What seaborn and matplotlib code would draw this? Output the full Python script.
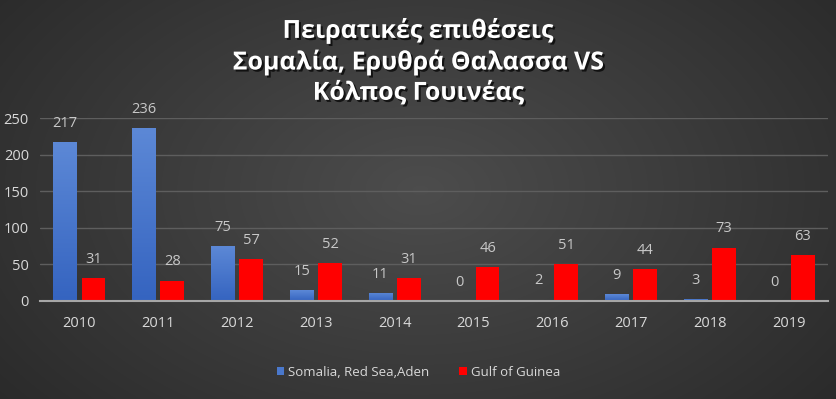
import numpy as np
import pandas as pd
import seaborn as sns
import matplotlib.pyplot as plt
import matplotlib.patheffects as pe
from matplotlib.colors import LinearSegmentedColormap

years = ['2010', '2011', '2012', '2013', '2014', '2015', '2016', '2017', '2018', '2019']
somalia = [217, 236, 75, 15, 11, 0, 2, 9, 3, 0]
guinea = [31, 28, 57, 52, 31, 46, 51, 44, 73, 63]
series = ['Somalia, Red Sea,Aden', 'Gulf of Guinea']
colors = ['#4a78cc', '#ff0000']
title = 'Πειρατικές επιθέσεις\nΣομαλία, Ερυθρά Θαλασσα VS\nΚόλπος Γουινέας'

df = pd.DataFrame({'year': years * 2,
                   'value': somalia + guinea,
                   'series': [series[0]] * len(years) + [series[1]] * len(years)})

sns.set_style('dark')
plt.rcParams['font.family'] = ['Open Sans', 'DejaVu Sans']

fig = plt.figure(figsize=(8.37, 3.99), dpi=100)

# radial gradient background
bg = fig.add_axes([0, 0, 1, 1], zorder=-5)
yy, xx = np.mgrid[0:399, 0:837]
r = np.sqrt(((xx - 420) / 520.0) ** 2 + ((yy - 190) / 330.0) ** 2)
shade = np.clip(0.30 - 0.13 * r, 0.16, 0.30)
bg.imshow(np.dstack([shade] * 3), aspect='auto', extent=[0, 1, 0, 1])
bg.set_axis_off()

ax = fig.add_axes([40 / 837, 1 - 301 / 399, 788 / 837, 183 / 399])
ax.patch.set_alpha(0)
sns.barplot(data=df, x='year', y='value', hue='series', palette=colors,
            width=0.72, gap=0.16, ax=ax, legend=True, saturation=1, linewidth=0)

# blue bars: light-to-dark vertical gradient like the original
blue_cm = LinearSegmentedColormap.from_list('bl', ['#3564c0', '#5c88d6'])
grad = np.linspace(0, 1, 64).reshape(-1, 1)
for p in ax.containers[0].patches:
    if p.get_height() <= 0:
        continue
    x0, w, h = p.get_x(), p.get_width(), p.get_height()
    im = ax.imshow(grad, cmap=blue_cm, origin='lower', aspect='auto',
                   extent=[x0, x0 + w, 0, h], zorder=p.get_zorder() + 0.1)
    im.set_clip_path(p)

for c in ax.containers:
    ax.bar_label(c, padding=8, color='#c8c8c8', fontsize=10.5)

ax.set_xlim(-0.5, len(years) - 0.5)
ax.set_ylim(0, 250)
ax.set_yticks(range(0, 251, 50))
ax.set_xlabel('')
ax.set_ylabel('')
ax.tick_params(colors='#d9d9d9', labelsize=10.5, length=0)
ax.tick_params(axis='x', pad=11)
ax.tick_params(axis='y', pad=8)
ax.grid(axis='y', color='#5e5e5e', linewidth=1)
ax.set_axisbelow(True)
for s in ['top', 'right', 'left']:
    ax.spines[s].set_visible(False)
ax.spines['bottom'].set_color('#a6a6a6')
ax.spines['bottom'].set_linewidth(1.5)

leg = ax.legend(loc='center', bbox_to_anchor=(0.48, -0.39), ncol=2, frameon=False,
                handlelength=0.6, handleheight=0.6, handletextpad=0.3,
                columnspacing=2.2, fontsize=9.5)
for t in leg.get_texts():
    t.set_color('#d9d9d9')

fig.text(0.5, 0.845, title, ha='center', va='center', color='white',
         fontsize=18, fontweight='bold', linespacing=1.28,
         path_effects=[pe.withSimplePatchShadow(offset=(1.5, -1.5), shadow_rgbFace='black', alpha=0.7)])

fig.savefig('out.png', dpi=100)
